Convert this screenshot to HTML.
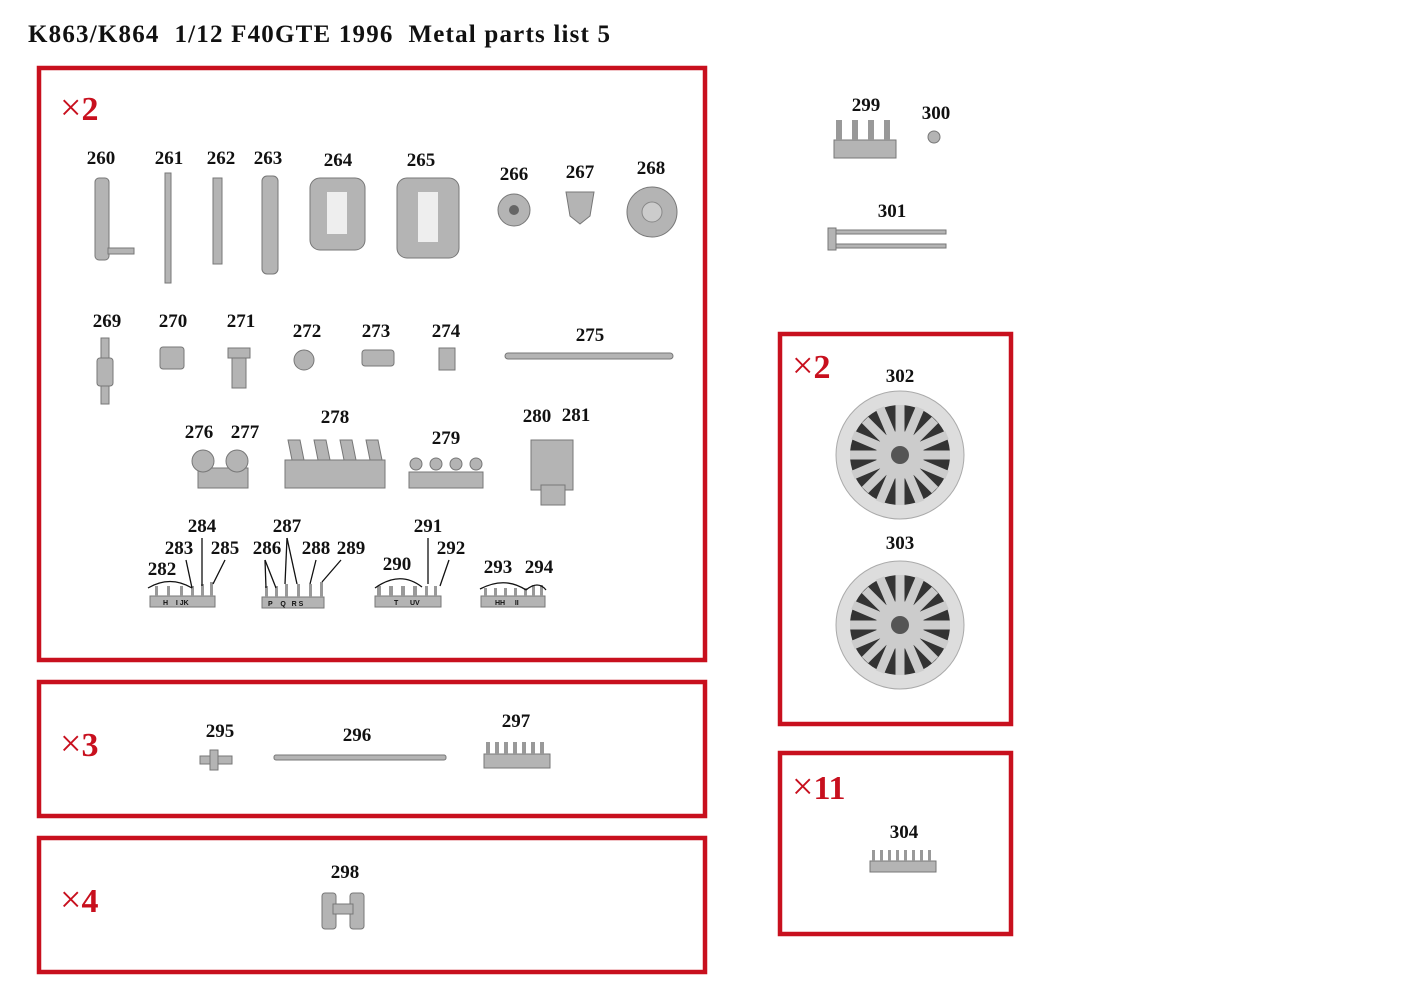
<!DOCTYPE html>
<html><head><meta charset="utf-8"><style>
html,body{margin:0;padding:0;background:#fff;}
svg{display:block}
text{font-family:"Liberation Serif",serif;font-weight:bold;fill:#111;white-space:pre;}
.l{font-size:19px;text-anchor:middle}
.x{font-size:34px;fill:#c8101e}
.p{fill:#b4b4b4;stroke:#777;stroke-width:1}
.bx{fill:none;stroke:#c8101e;stroke-width:4.5}
.ln{stroke:#111;stroke-width:1.3;fill:none}
</style></head><body>
<svg width="1414" height="1000" viewBox="0 0 1414 1000" xml:space="preserve">
<text x="28" y="42" textLength="582" lengthAdjust="spacing" style="font-size:25px;white-space:pre">K863/K864  1/12 F40GTE 1996  Metal parts list 5</text>
<rect class="bx" x="39" y="68" width="666" height="592"/>
<rect class="bx" x="39" y="682" width="666" height="134"/>
<rect class="bx" x="39" y="838" width="666" height="134"/>
<rect class="bx" x="780" y="334" width="231" height="390"/>
<rect class="bx" x="780" y="753" width="231" height="181"/>
<text class="x" x="60" y="120"><tspan style="font-weight:normal;font-size:38px">×</tspan>2</text>
<text class="x" x="60" y="756"><tspan style="font-weight:normal;font-size:38px">×</tspan>3</text>
<text class="x" x="60" y="912"><tspan style="font-weight:normal;font-size:38px">×</tspan>4</text>
<text class="x" x="792" y="378"><tspan style="font-weight:normal;font-size:38px">×</tspan>2</text>
<text class="x" x="792" y="799"><tspan style="font-weight:normal;font-size:38px">×</tspan>11</text>
<g>
<text class="l" x="101" y="164">260</text><text class="l" x="169" y="164">261</text><text class="l" x="221" y="164">262</text><text class="l" x="268" y="164">263</text><text class="l" x="338" y="166">264</text><text class="l" x="421" y="166">265</text><text class="l" x="514" y="180">266</text><text class="l" x="580" y="178">267</text><text class="l" x="651" y="174">268</text>
<text class="l" x="107" y="327">269</text><text class="l" x="173" y="327">270</text><text class="l" x="241" y="327">271</text><text class="l" x="307" y="337">272</text><text class="l" x="376" y="337">273</text><text class="l" x="446" y="337">274</text><text class="l" x="590" y="341">275</text>
<text class="l" x="199" y="438">276</text><text class="l" x="245" y="438">277</text><text class="l" x="335" y="423">278</text><text class="l" x="446" y="444">279</text><text class="l" x="537" y="422">280</text><text class="l" x="576" y="421">281</text>
<text class="l" x="202" y="532">284</text><text class="l" x="179" y="554">283</text><text class="l" x="225" y="554">285</text><text class="l" x="162" y="575">282</text>
<text class="l" x="287" y="532">287</text><text class="l" x="267" y="554">286</text><text class="l" x="316" y="554">288</text><text class="l" x="351" y="554">289</text>
<text class="l" x="428" y="532">291</text><text class="l" x="451" y="554">292</text><text class="l" x="397" y="570">290</text>
<text class="l" x="498" y="573">293</text><text class="l" x="539" y="573">294</text>
<text class="l" x="220" y="737">295</text><text class="l" x="357" y="741">296</text><text class="l" x="516" y="727">297</text>
<text class="l" x="345" y="878">298</text>
<text class="l" x="866" y="111">299</text><text class="l" x="936" y="119">300</text><text class="l" x="892" y="217">301</text>
<text class="l" x="900" y="382">302</text><text class="l" x="900" y="549">303</text><text class="l" x="904" y="838">304</text>
</g>
<rect class="p" x="95" y="178" width="14" height="82" rx="4"/><rect class="p" x="108" y="248" width="26" height="6"/>
<rect class="p" x="165" y="173" width="6" height="110"/>
<rect class="p" x="213" y="178" width="9" height="86"/>
<rect class="p" x="262" y="176" width="16" height="98" rx="5"/>
<rect class="p" x="310" y="178" width="55" height="72" rx="10"/><rect x="327" y="192" width="20" height="42" fill="#eee"/>
<rect class="p" x="397" y="178" width="62" height="80" rx="10"/><rect x="418" y="192" width="20" height="50" fill="#eee"/>
<circle class="p" cx="514" cy="210" r="16"/><circle cx="514" cy="210" r="5" fill="#666"/>
<path class="p" d="M566 192h28l-4 24-10 8-10-8z"/>
<circle class="p" cx="652" cy="212" r="25"/><circle cx="652" cy="212" r="10" fill="#ccc" stroke="#888"/>
<rect class="p" x="101" y="338" width="8" height="66"/><rect class="p" x="97" y="358" width="16" height="28" rx="3"/>
<rect class="p" x="160" y="347" width="24" height="22" rx="3"/>
<rect class="p" x="232" y="348" width="14" height="40"/><rect class="p" x="228" y="348" width="22" height="10"/>
<circle class="p" cx="304" cy="360" r="10"/>
<rect class="p" x="362" y="350" width="32" height="16" rx="3"/>
<rect class="p" x="439" y="348" width="16" height="22"/>
<rect class="p" x="505" y="353" width="168" height="6" rx="3"/>
<rect class="p" x="198" y="468" width="50" height="20"/><circle class="p" cx="203" cy="461" r="11"/><circle class="p" cx="237" cy="461" r="11"/>
<rect class="p" x="285" y="460" width="100" height="28"/>
<g class="p"><path d="M288 440l12 0 4 20h-12z"/><path d="M314 440l12 0 4 20h-12z"/><path d="M340 440l12 0 4 20h-12z"/><path d="M366 440l12 0 4 20h-12z"/></g>
<rect class="p" x="409" y="472" width="74" height="16"/><g class="p"><circle cx="416" cy="464" r="6"/><circle cx="436" cy="464" r="6"/><circle cx="456" cy="464" r="6"/><circle cx="476" cy="464" r="6"/></g>
<rect class="p" x="531" y="440" width="42" height="50"/><rect class="p" x="541" y="485" width="24" height="20"/>
<rect class="p" x="150" y="596" width="65" height="11"/><rect class="p" x="262" y="597" width="62" height="11"/><rect class="p" x="375" y="596" width="66" height="11"/><rect class="p" x="481" y="596" width="64" height="11"/>
<g fill="#999"><rect x="155" y="586" width="3" height="10"/><rect x="167" y="586" width="3" height="10"/><rect x="180" y="586" width="3" height="10"/><rect x="191" y="586" width="3" height="10"/><rect x="201" y="584" width="3" height="12"/><rect x="210" y="582" width="3" height="14"/>
<rect x="265" y="586" width="3" height="11"/><rect x="275" y="586" width="3" height="11"/><rect x="285" y="584" width="3" height="13"/><rect x="297" y="584" width="3" height="13"/><rect x="309" y="584" width="3" height="13"/><rect x="320" y="582" width="3" height="15"/>
<rect x="377" y="586" width="4" height="10"/><rect x="389" y="586" width="4" height="10"/><rect x="401" y="586" width="4" height="10"/><rect x="413" y="586" width="4" height="10"/><rect x="425" y="586" width="3" height="10"/><rect x="434" y="586" width="3" height="10"/>
<rect x="484" y="588" width="3" height="8"/><rect x="494" y="588" width="3" height="8"/><rect x="504" y="588" width="3" height="8"/><rect x="514" y="588" width="3" height="8"/><rect x="524" y="588" width="3" height="8"/><rect x="532" y="585" width="3" height="11"/><rect x="540" y="585" width="3" height="11"/></g>
<g class="ln">
<path d="M148 588 Q170 575 192 588"/><line x1="186" y1="560" x2="192" y2="588"/><line x1="202" y1="538" x2="202" y2="586"/><line x1="225" y1="560" x2="213" y2="584"/>
<line x1="265" y1="560" x2="266" y2="588"/><line x1="265" y1="560" x2="276" y2="588"/><line x1="287" y1="538" x2="285" y2="584"/><line x1="287" y1="538" x2="297" y2="584"/><line x1="316" y1="560" x2="310" y2="584"/><line x1="341" y1="560" x2="322" y2="582"/>
<path d="M375 588 Q400 570 422 587"/><line x1="428" y1="538" x2="428" y2="584"/><line x1="449" y1="560" x2="440" y2="586"/>
<path d="M480 589 Q505 576 526 590"/><path d="M526 590 Q538 580 546 590"/>
</g>
<text x="163" y="605" style="font-family:Liberation Sans;font-size:7px">H    I JK</text><text x="268" y="606" style="font-family:Liberation Sans;font-size:7px">P    Q   R S</text><text x="394" y="605" style="font-family:Liberation Sans;font-size:7px">T      UV</text><text x="495" y="605" style="font-family:Liberation Sans;font-size:7px">HH     II</text>
<rect class="p" x="200" y="756" width="32" height="8"/><rect class="p" x="210" y="750" width="8" height="20"/>
<rect class="p" x="274" y="755" width="172" height="5" rx="2"/>
<rect class="p" x="484" y="754" width="66" height="14"/><g fill="#999"><rect x="486" y="742" width="4" height="12"/><rect x="495" y="742" width="4" height="12"/><rect x="504" y="742" width="4" height="12"/><rect x="513" y="742" width="4" height="12"/><rect x="522" y="742" width="4" height="12"/><rect x="531" y="742" width="4" height="12"/><rect x="540" y="742" width="4" height="12"/></g>
<rect class="p" x="322" y="893" width="14" height="36" rx="3"/><rect class="p" x="350" y="893" width="14" height="36" rx="3"/><rect class="p" x="333" y="904" width="20" height="10"/>
<rect class="p" x="834" y="140" width="62" height="18"/><g fill="#999"><rect x="836" y="120" width="6" height="20"/><rect x="852" y="120" width="6" height="20"/><rect x="868" y="120" width="6" height="20"/><rect x="884" y="120" width="6" height="20"/></g>
<circle class="p" cx="934" cy="137" r="6"/>
<rect class="p" x="830" y="230" width="116" height="4"/><rect class="p" x="830" y="244" width="116" height="4"/><rect class="p" x="828" y="228" width="8" height="22"/>
<g>
<circle cx="900" cy="455" r="64" fill="#ddd" stroke="#aaa"/><circle cx="900" cy="455" r="50" fill="#333"/>
<g stroke="#ccc" stroke-width="9"><line x1="900" y1="405" x2="900" y2="505"/><line x1="850" y1="455" x2="950" y2="455"/><line x1="865" y1="420" x2="935" y2="490"/><line x1="935" y1="420" x2="865" y2="490"/><line x1="880" y1="408" x2="920" y2="502"/><line x1="920" y1="408" x2="880" y2="502"/><line x1="853" y1="435" x2="947" y2="475"/><line x1="853" y1="475" x2="947" y2="435"/></g>
<circle cx="900" cy="455" r="24" fill="#ccc"/><circle cx="900" cy="455" r="9" fill="#555"/>
<circle cx="900" cy="625" r="64" fill="#ddd" stroke="#aaa"/><circle cx="900" cy="625" r="50" fill="#333"/>
<g stroke="#ccc" stroke-width="9"><line x1="900" y1="575" x2="900" y2="675"/><line x1="850" y1="625" x2="950" y2="625"/><line x1="865" y1="590" x2="935" y2="660"/><line x1="935" y1="590" x2="865" y2="660"/><line x1="880" y1="578" x2="920" y2="672"/><line x1="920" y1="578" x2="880" y2="672"/><line x1="853" y1="605" x2="947" y2="645"/><line x1="853" y1="645" x2="947" y2="605"/></g>
<circle cx="900" cy="625" r="24" fill="#ccc"/><circle cx="900" cy="625" r="9" fill="#555"/>
</g>
<rect class="p" x="870" y="861" width="66" height="11"/><g fill="#999"><rect x="872" y="850" width="3" height="11"/><rect x="880" y="850" width="3" height="11"/><rect x="888" y="850" width="3" height="11"/><rect x="896" y="850" width="3" height="11"/><rect x="904" y="850" width="3" height="11"/><rect x="912" y="850" width="3" height="11"/><rect x="920" y="850" width="3" height="11"/><rect x="928" y="850" width="3" height="11"/></g>
</svg>
</body></html>
